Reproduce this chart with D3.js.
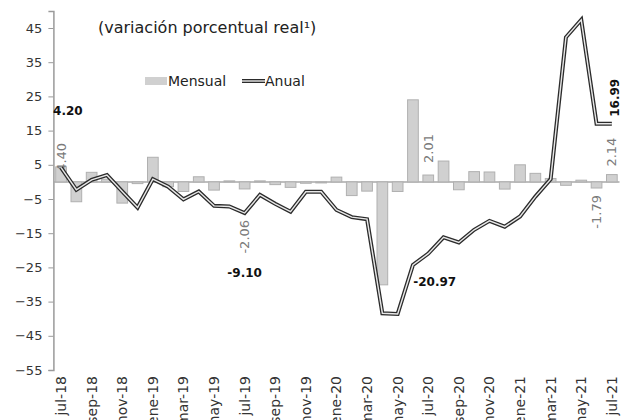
<!DOCTYPE html>
<html>
<head>
<meta charset="utf-8">
<script src="https://cdn.jsdelivr.net/npm/d3@7"></script>
<style>
  body { margin: 0; background: #fff; }
  text { font-family: "DejaVu Sans", sans-serif; }
</style>
</head>
<body>
<div id="chart"></div>
<script>
var months = ['jul-18','ago-18','sep-18','oct-18','nov-18','dic-18',
  'ene-19','feb-19','mar-19','abr-19','may-19','jun-19','jul-19','ago-19','sep-19','oct-19','nov-19','dic-19',
  'ene-20','feb-20','mar-20','abr-20','may-20','jun-20','jul-20','ago-20','sep-20','oct-20','nov-20','dic-20',
  'ene-21','feb-21','mar-21','abr-21','may-21','jun-21','jul-21'];

var mensual = [4.40, -5.8, 2.8, 0.8, -6.2, -0.5,
  7.2, -1.4, -2.8, 1.5, -2.4, 0.3, -2.06, 0.3, -0.8, -1.6, -0.4, -0.3,
  1.4, -4.0, -2.7, -30.1, -2.8, 24.0, 2.01, 6.1, -2.3, 3.0, 2.9, -2.1,
  5.0, 2.5, 1.0, -1.0, 0.5, -1.79, 2.14];

var anual = [4.20, -2.3, 0.6, 2.0, -2.8, -7.5,
  0.8, -1.4, -5.1, -2.8, -7.0, -7.2, -9.10, -3.8, -6.4, -8.7, -2.9, -2.9,
  -8.2, -10.3, -10.9, -38.4, -38.6, -24.3, -20.97, -16.2, -17.7, -14.0, -11.4, -13.1,
  -10.1, -4.3, 0.8, 42.3, 47.4, 17.0, 16.99];

var yTicks = [-55, -45, -35, -25, -15, -5, 5, 15, 25, 35, 45];

// rotated gray labels on bars, bold labels on the line
var barNotes = [
  { i: 0, text: '4.40', side: 'up', off: 5 },
  { i: 12, text: '-2.06', side: 'down', off: 31 },
  { i: 24, text: '2.01', side: 'up', off: -12 },
  { i: 35, text: '-1.79', side: 'down', off: 7 },
  { i: 36, text: '2.14', side: 'up', off: -8 }
];
var lineNotes = [
  { i: 0, text: '4.20', dx: -8, dy: -53, anchor: 'start' },
  { i: 12, text: '-9.10', dx: 0, dy: 64, anchor: 'middle' },
  { i: 24, text: '-20.97', dx: -15, dy: 32, anchor: 'start' }
];

var width = 631, height = 420,
    left = 53.4, right = 619.5;

var svg = d3.select('#chart')
  .append('svg')
    .attr('width', width)
    .attr('height', height);

var x = d3.scaleBand()
  .domain(months)
  .range([left, right])
  .paddingInner(0.3)
  .paddingOuter(0.15);

var y = d3.scaleLinear()
  .domain([-55, 50])
  .range([370, 10.9]);

function xc(i) { return x(months[i]) + x.bandwidth() / 2; }

// y axis
var yAxis = svg.append('g')
  .attr('transform', 'translate(' + left + ',0)')
  .call(d3.axisLeft(y).tickValues(yTicks).tickSize(5).tickPadding(6).tickFormat(d3.format('d')));
yAxis.select('.domain').attr('stroke', '#9a9a9a').attr('stroke-width', 1.5);
yAxis.selectAll('.tick line').attr('stroke', '#9a9a9a');
yAxis.selectAll('.tick text')
  .attr('fill', '#333')
  .style('font-size', '13px')
  .style('font-family', '"DejaVu Sans", sans-serif');

// zero line
svg.append('line')
  .attr('x1', left).attr('x2', right)
  .attr('y1', y(0)).attr('y2', y(0))
  .attr('stroke', '#a8a8a8')
  .attr('stroke-width', 1.5);

// bars
svg.selectAll('rect.bar')
  .data(mensual)
  .enter().append('rect')
    .classed('bar', true)
    .attr('x', function (d, i) { return x(months[i]); })
    .attr('width', x.bandwidth())
    .attr('y', function (d) { return y(Math.max(0, d)); })
    .attr('height', function (d) { return Math.abs(y(d) - y(0)); })
    .attr('fill', '#d0d0d0')
    .attr('stroke', '#b0b0b0')
    .attr('stroke-width', 1);

// bar labels
svg.selectAll('text.barnote')
  .data(barNotes)
  .enter().append('text')
    .classed('barnote', true)
    .attr('transform', function (n) {
      return 'translate(' + xc(n.i) + ',' + (y(mensual[n.i]) + n.off) + ') rotate(-90)';
    })
    .attr('text-anchor', function (n) { return n.side === 'up' ? 'start' : 'end'; })
    .attr('dy', '0.35em')
    .attr('fill', '#7a7a7a')
    .style('font-size', '13px')
    .text(function (n) { return n.text; });

// anual line, drawn double
var line = d3.line()
  .x(function (d, i) { return xc(i); })
  .y(function (d) { return y(d); });

svg.append('path')
  .datum(anual)
  .attr('d', line)
  .attr('fill', 'none')
  .attr('stroke', '#2b2b2b')
  .attr('stroke-width', 4)
  .attr('stroke-linejoin', 'miter');
svg.append('path')
  .datum(anual)
  .attr('d', line)
  .attr('fill', 'none')
  .attr('stroke', '#e8e8e8')
  .attr('stroke-width', 1.4)
  .attr('stroke-linejoin', 'miter');

svg.selectAll('text.linenote')
  .data(lineNotes)
  .enter().append('text')
    .classed('linenote', true)
    .attr('x', function (n) { return xc(n.i) + n.dx; })
    .attr('y', function (n) { return y(anual[n.i]) + n.dy; })
    .attr('text-anchor', function (n) { return n.anchor; })
    .attr('fill', '#111')
    .style('font-size', '12px')
    .style('font-weight', 'bold')
    .text(function (n) { return n.text; });

// last value, rotated
svg.append('text')
  .attr('transform', 'translate(' + (xc(36) + 3) + ',' + (y(anual[36]) - 7) + ') rotate(-90)')
  .attr('dy', '0.35em')
  .attr('fill', '#111')
  .style('font-size', '12px')
  .style('font-weight', 'bold')
  .text('16.99');

// x labels, every other month
svg.selectAll('text.xlab')
  .data(months.filter(function (m, i) { return i % 2 === 0; }))
  .enter().append('text')
    .classed('xlab', true)
    .attr('transform', function (m) {
      return 'translate(' + (x(m) + x.bandwidth() / 2) + ',376) rotate(-90)';
    })
    .attr('text-anchor', 'end')
    .attr('dy', '0.35em')
    .attr('fill', '#333')
    .style('font-size', '14px')
    .text(function (m) { return m; });

// title
svg.append('text')
  .attr('x', 98)
  .attr('y', 33)
  .attr('fill', '#222')
  .style('font-size', '16px')
  .text('(variación porcentual real¹)');

// legend
var legend = svg.append('g').attr('transform', 'translate(145,81)');
legend.append('rect')
  .attr('x', 0).attr('y', -4)
  .attr('width', 22).attr('height', 8)
  .attr('fill', '#d0d0d0');
legend.append('text')
  .attr('x', 23).attr('y', 5)
  .attr('fill', '#222')
  .style('font-size', '14px')
  .text('Mensual');
legend.append('line')
  .attr('x1', 97).attr('x2', 120).attr('y1', 0).attr('y2', 0)
  .attr('stroke', '#2b2b2b').attr('stroke-width', 4);
legend.append('line')
  .attr('x1', 97).attr('x2', 120).attr('y1', 0).attr('y2', 0)
  .attr('stroke', '#e8e8e8').attr('stroke-width', 1.4);
legend.append('text')
  .attr('x', 120).attr('y', 5)
  .attr('fill', '#222')
  .style('font-size', '14px')
  .text('Anual');
</script>
</body>
</html>
